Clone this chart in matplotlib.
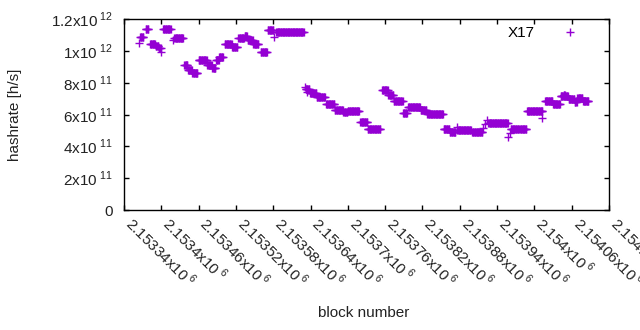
import numpy as np
import matplotlib
matplotlib.use("Agg")
import matplotlib.pyplot as plt
from matplotlib.ticker import FuncFormatter, MultipleLocator

plt.rcParams['font.family'] = ['Liberation Sans', 'DejaVu Sans']
plt.rcParams['font.size'] = 11

# runs of blocks sharing one hashrate estimate (start block, end block, hashrate / 1e11)
run_start = [2153364, 2153366, 2153375, 2153382, 2153391, 2153396, 2153400, 2153403,
             2153419, 2153421, 2153437, 2153443, 2153450, 2153460, 2153474, 2153482,
             2153488, 2153493, 2153502, 2153514, 2153524, 2153534, 2153539, 2153548,
             2153560, 2153571, 2153582, 2153585,
             2153631, 2153632, 2153634, 2153639, 2153650, 2153665, 2153679, 2153693,
             2153700, 2153720, 2153732, 2153739,
             2153755, 2153765, 2153774, 2153789, 2153797, 2153817, 2153828, 2153854,
             2153864, 2153875, 2153876, 2153900, 2153918, 2153921, 2153924, 2153926,
             2153958, 2153960, 2153962, 2153976, 2153988, 2154012, 2154017, 2154030,
             2154042, 2154047, 2154055, 2154065, 2154069, 2154078]
run_end = [2153364, 2153371, 2153379, 2153390, 2153395, 2153399, 2153400, 2153415,
           2153419, 2153435, 2153442, 2153449, 2153458, 2153473, 2153481, 2153487,
           2153492, 2153499, 2153513, 2153522, 2153533, 2153538, 2153547, 2153556,
           2153570, 2153580, 2153582, 2153629,
           2153631, 2153638, 2153634, 2153649, 2153663, 2153678, 2153692, 2153699,
           2153718, 2153731, 2153738, 2153752,
           2153764, 2153773, 2153788, 2153795, 2153816, 2153826, 2153853, 2153863,
           2153873, 2153875, 2153898, 2153916, 2153918, 2153921, 2153924, 2153957,
           2153958, 2153960, 2153974, 2153987, 2154013, 2154012, 2154029, 2154041,
           2154054, 2154049, 2154064, 2154068, 2154077, 2154087]
run_value = [10.50, 10.85, 11.40, 10.45, 10.30, 10.15, 9.95, 11.40,
             10.65, 10.82, 9.10, 8.80, 8.62, 9.45, 9.10, 8.90,
             9.40, 9.60, 10.40, 10.24, 10.80, 10.95, 10.68, 10.45,
             9.90, 11.28, 10.87, 11.20,
             7.75, 7.58, 7.40, 7.38, 7.07, 6.63, 6.31, 6.13,
             6.19, 5.56, 5.06, 5.12,
             7.51, 7.20, 6.82, 6.09, 6.50, 6.31, 6.06, 5.12,
             4.87, 5.20, 5.03, 4.93, 5.15, 5.40, 5.65, 5.47,
             4.60, 4.85, 5.12, 5.06, 6.19, 5.80, 6.85, 6.66,
             7.16, 7.25, 6.97, 6.80, 7.04, 6.82]

blocks = []
hashrate = []
for s, e, v in zip(run_start, run_end, run_value):
    for b in range(s, e + 1):
        blocks.append(b)
        hashrate.append(v * 1e11)


def sci_label(v, pos=None):
    if v == 0:
        return "0"
    e = int(np.floor(np.log10(abs(v)) + 1e-9))
    m = round(v / 10 ** e, 6)
    return "%gx10$^{\\;\\mathregular{%d}}$" % (m, e)


fig = plt.figure(figsize=(6.4, 3.3), dpi=100)
ax = fig.add_axes([124 / 640, 1 - 210 / 330, 485 / 640, 191 / 330])

ax.plot(blocks, hashrate, linestyle='none', marker='+', markersize=5.2,
        markeredgewidth=1.0, color='#9400d3', label='X17')

ax.set_xlim(2153340, 2154120)
ax.set_ylim(0, 1.2e12)
ax.xaxis.set_major_locator(MultipleLocator(60))
ax.yaxis.set_major_locator(MultipleLocator(2e11))
ax.xaxis.set_major_formatter(FuncFormatter(sci_label))
ax.yaxis.set_major_formatter(FuncFormatter(sci_label))

ax.tick_params(direction='in', length=3.5, width=1, top=True, right=True,
               colors='black', labelcolor='#222222')
ax.tick_params(axis='y', pad=8)
ax.tick_params(axis='x', pad=11)
for lab in ax.get_xticklabels():
    lab.set_rotation(-45)
    lab.set_ha('left')
    lab.set_va('baseline')
    lab.set_rotation_mode('anchor')

for sp in ax.spines.values():
    sp.set_linewidth(1)

ax.set_xlabel('block number', color='#222222')
ax.set_ylabel('hashrate [h/s]', color='#222222')
ax.xaxis.set_label_coords(0.494, -(306 - 210) / 191)
ax.yaxis.set_label_coords(-(124 - 22) / 485, 0.5)

ax.legend(loc='upper right', bbox_to_anchor=((593 - 124) / 485, 1 - (26 - 19) / 191),
          frameon=False, markerfirst=False, handlelength=3.0, handletextpad=0.8,
          borderpad=0, borderaxespad=0, numpoints=1, fontsize=11)

fig.savefig('out.png', dpi=100)
